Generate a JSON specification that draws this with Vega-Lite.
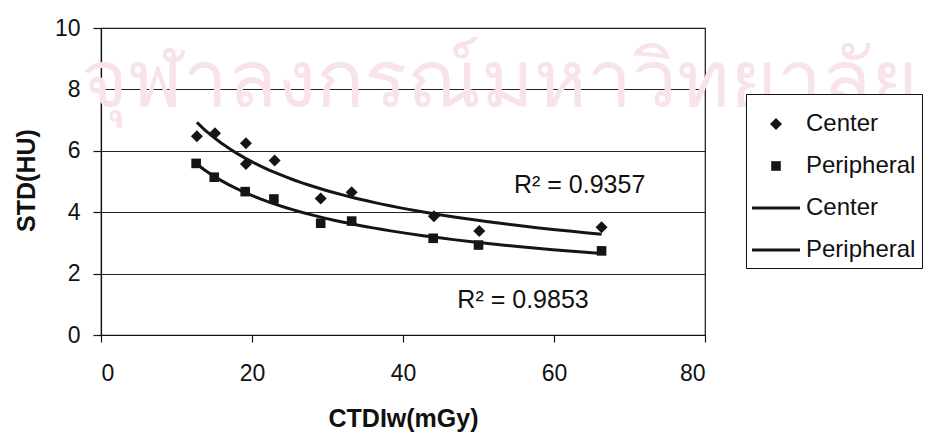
{
  "$schema": "https://vega.github.io/schema/vega-lite/v6.json",
  "width": 604,
  "height": 307,
  "autosize": {"type": "none"},
  "padding": {"left": 101, "top": 28, "right": 235, "bottom": 108},
  "background": "white",
  "config": {
    "font": "Liberation Sans",
    "view": {"stroke": "#111", "strokeWidth": 1.2},
    "axis": {
      "domainColor": "#111",
      "domainWidth": 1.2,
      "tickColor": "#111",
      "tickWidth": 1.2,
      "gridColor": "#222",
      "gridWidth": 1,
      "labelColor": "#111",
      "titleColor": "#111",
      "labelFont": "Liberation Sans",
      "titleFont": "Liberation Sans"
    }
  },
  "datasets": {
    "points": [
      {"CTDI": 12.7, "STD": 6.47, "series": "Center"},
      {"CTDI": 15.1, "STD": 6.57, "series": "Center"},
      {"CTDI": 19.2, "STD": 6.25, "series": "Center"},
      {"CTDI": 19.2, "STD": 5.57, "series": "Center"},
      {"CTDI": 23.0, "STD": 5.68, "series": "Center"},
      {"CTDI": 29.1, "STD": 4.45, "series": "Center"},
      {"CTDI": 33.2, "STD": 4.65, "series": "Center"},
      {"CTDI": 44.1, "STD": 3.87, "series": "Center"},
      {"CTDI": 50.1, "STD": 3.39, "series": "Center"},
      {"CTDI": 66.3, "STD": 3.51, "series": "Center"},
      {"CTDI": 12.6, "STD": 5.59, "series": "Peripheral"},
      {"CTDI": 15.0, "STD": 5.14, "series": "Peripheral"},
      {"CTDI": 19.1, "STD": 4.67, "series": "Peripheral"},
      {"CTDI": 22.9, "STD": 4.43, "series": "Peripheral"},
      {"CTDI": 29.1, "STD": 3.64, "series": "Peripheral"},
      {"CTDI": 33.2, "STD": 3.71, "series": "Peripheral"},
      {"CTDI": 44.0, "STD": 3.15, "series": "Peripheral"},
      {"CTDI": 50.0, "STD": 2.93, "series": "Peripheral"},
      {"CTDI": 66.3, "STD": 2.74, "series": "Peripheral"}
    ],
    "labels": [
      {"CTDI": 63.4, "STD": 4.9, "label": "R² = 0.9357"},
      {"CTDI": 55.9, "STD": 1.14, "label": "R² = 0.9853"}
    ],
    "watermark": [
      {"CTDI": 52.8, "STD": 8.2, "label": "จุฬาลงกรณ์มหาวิทยาลัย"}
    ]
  },
  "encoding": {
    "x": {
      "field": "CTDI",
      "type": "quantitative",
      "scale": {"domain": [0, 80], "nice": false},
      "axis": {
        "values": [0, 20, 40, 60, 80],
        "grid": false,
        "tickSize": 7,
        "labelFontSize": 23,
        "labelPadding": 20,
        "title": "CTDIw(mGy)",
        "titleFontSize": 25,
        "titleFontWeight": "bold",
        "titleY": 91,
        "titleBaseline": "alphabetic"
      }
    },
    "y": {
      "field": "STD",
      "type": "quantitative",
      "scale": {"domain": [0, 10], "nice": false},
      "axis": {
        "values": [0, 2, 4, 6, 8, 10],
        "grid": true,
        "tickSize": 8,
        "labelFontSize": 23,
        "labelPadding": 13,
        "title": "STD(HU)",
        "titleFontSize": 25,
        "titleFontWeight": "bold",
        "titleAngle": 270,
        "titleX": -67,
        "titleY": 152,
        "titleAlign": "center",
        "titleBaseline": "alphabetic"
      }
    }
  },
  "layer": [
    {
      "data": {"name": "watermark"},
      "mark": {"type": "text", "fontSize": 80, "color": "#f8e2ec", "align": "center", "baseline": "middle"},
      "encoding": {"text": {"field": "label"}}
    },
    {
      "data": {"name": "points"},
      "transform": [
        {"regression": "STD", "on": "CTDI", "groupby": ["series"], "method": "pow"}
      ],
      "mark": {"type": "line", "color": "#151515", "strokeWidth": 3},
      "encoding": {"detail": {"field": "series"}}
    },
    {
      "data": {"name": "points"},
      "mark": {"type": "point", "filled": true, "opacity": 1, "size": 2304, "color": "#151515"},
      "encoding": {
        "shape": {
          "field": "series",
          "type": "nominal",
          "scale": {
            "domain": ["Center", "Peripheral", "Center line", "Peripheral line"],
            "range": [
              "M0,-0.25L0.25,0L0,0.25L-0.25,0Z",
              "M-0.2,-0.2L0.2,-0.2L0.2,0.2L-0.2,0.2Z",
              "M-1,-0.06L1,-0.06L1,0.06L-1,0.06Z",
              "M-1,-0.06L1,-0.06L1,0.06L-1,0.06Z"
            ]
          },
          "legend": {
            "orient": "none",
            "legendX": 645,
            "legendY": 66,
            "title": null,
            "strokeColor": "#111",
            "fillColor": "white",
            "padding": 6,
            "labelFontSize": 24,
            "labelColor": "#111",
            "labelFont": "Liberation Sans",
            "symbolSize": 2304,
            "symbolFillColor": "#151515",
            "symbolStrokeWidth": 0,
            "rowPadding": 6,
            "labelOffset": 6,
            "labelLimit": 300,
            "labelExpr": "replace(datum.label, ' line', '')"
          }
        }
      }
    },
    {
      "data": {"name": "labels"},
      "mark": {"type": "text", "fontSize": 25, "color": "#111", "align": "center", "baseline": "middle"},
      "encoding": {"text": {"field": "label"}}
    }
  ]
}
